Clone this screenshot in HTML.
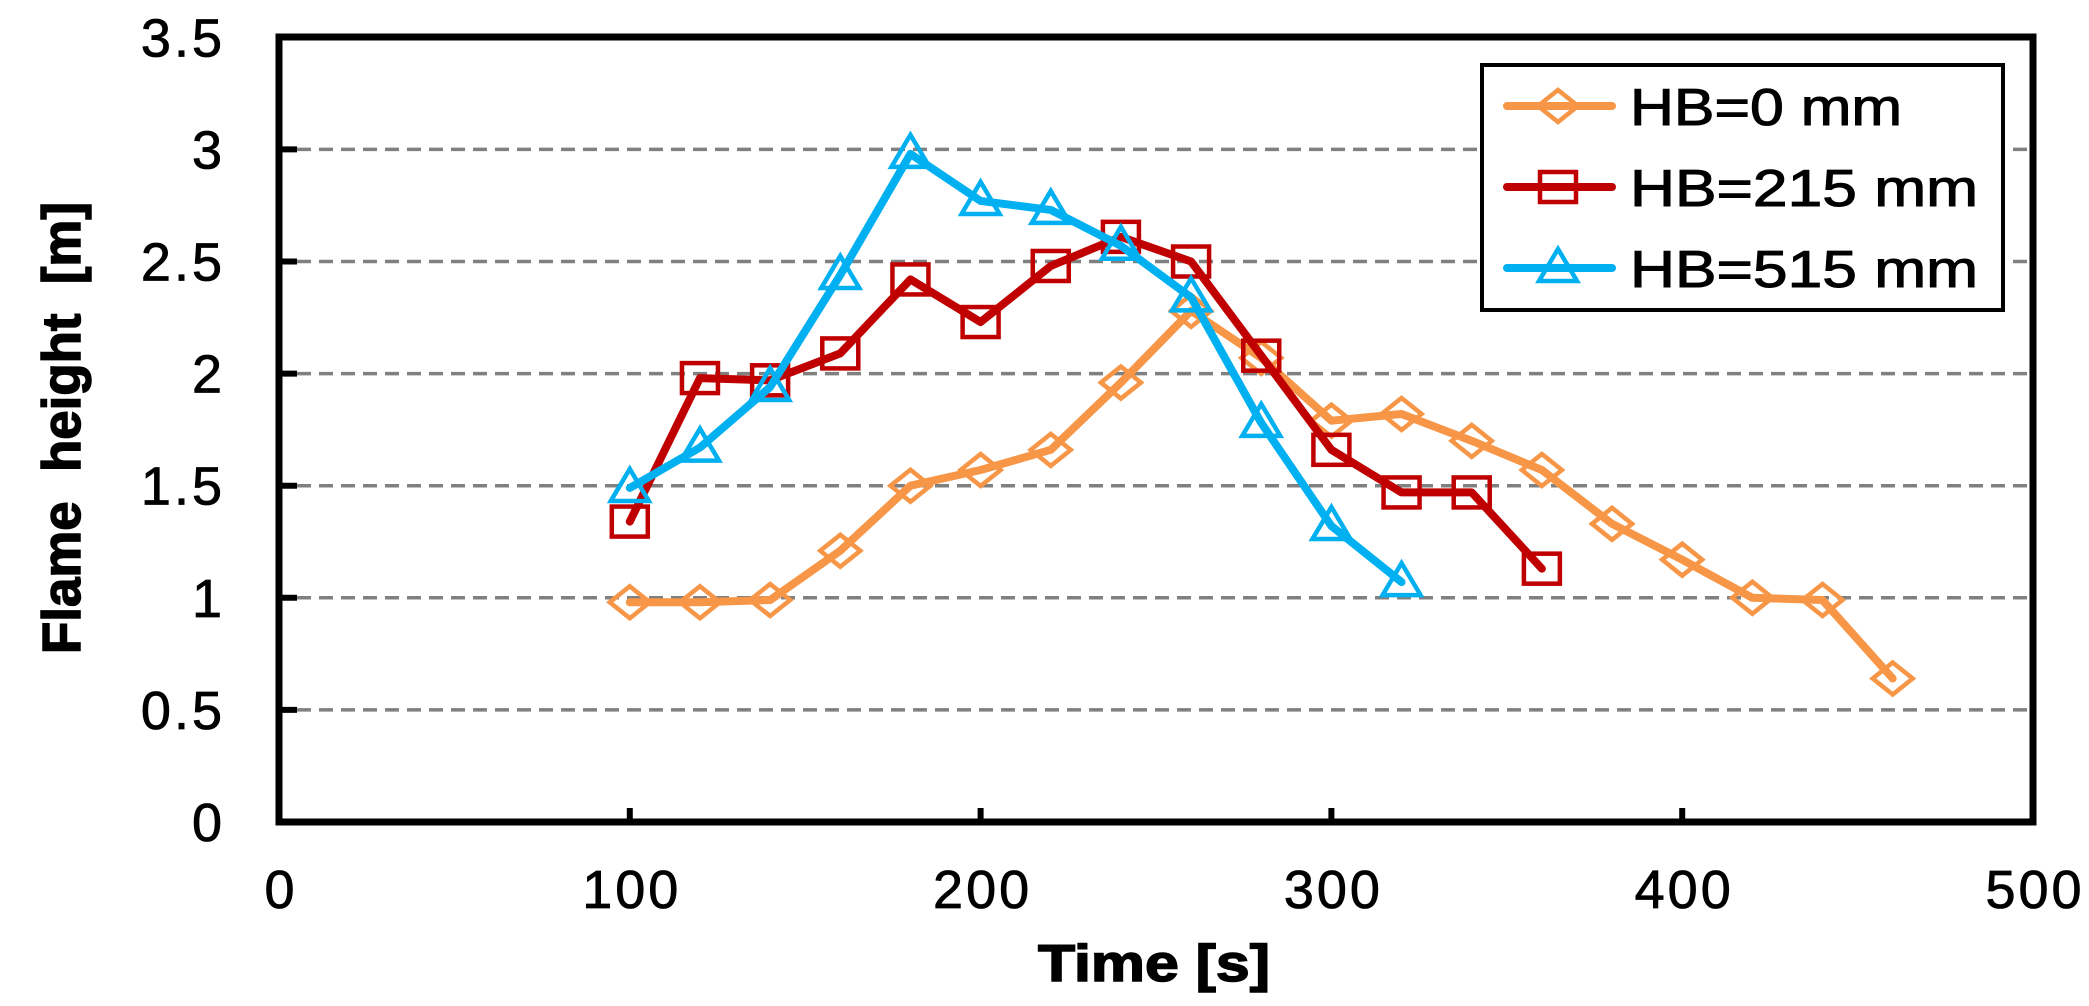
<!DOCTYPE html>
<html><head><meta charset="utf-8"><style>
html,body{margin:0;padding:0;background:#fff;}
svg{display:block;}
text{font-family:"Liberation Sans",Arial,sans-serif;fill:#000;}
</style></head><body>
<svg id="s" width="2089" height="1006" viewBox="0 0 2089 1006" xmlns="http://www.w3.org/2000/svg">
<g id="grid" stroke="#808080" stroke-width="3.5" stroke-dasharray="14,8"></g>
<g id="ticks" stroke="#000" stroke-width="6"></g>
<g id="series"></g>
<rect x="279" y="37" width="1754" height="785" fill="none" stroke="#000" stroke-width="7"/>
<g id="labels" font-size="54" letter-spacing="3" stroke="#000" stroke-width="0.8"></g>
<text x="1154" y="981" font-size="52" font-weight="bold" text-anchor="middle" textLength="232" lengthAdjust="spacingAndGlyphs" stroke="#000" stroke-width="1.5">Time [s]</text>
<text transform="translate(80,428) rotate(-90)" font-size="54" font-weight="bold" text-anchor="middle" textLength="452" lengthAdjust="spacingAndGlyphs" stroke="#000" stroke-width="1.5">Flame&#160; height&#160; [m]</text>
<rect x="1482" y="65" width="521" height="245" fill="#fff" stroke="#000" stroke-width="4"/>
<g id="legend"></g>
</svg>
<script>
var NS="http://www.w3.org/2000/svg";
function el(p,t,a,txt){var e=document.createElementNS(NS,t);for(var k in a)e.setAttribute(k,a[k]);if(txt!=null)e.textContent=txt;document.getElementById(p).appendChild(e);return e;}
function X(v){return 279+v*3.508;}
function Y(v){return 822-v*224.2;}
for(var i=1;i<=6;i++){var y=Y(i*0.5);el("grid","line",{x1:297,x2:2030,y1:y,y2:y});el("ticks","line",{x1:279,x2:297,y1:y,y2:y});}
for(var i=1;i<=4;i++){var x=X(i*100);el("ticks","line",{x1:x,x2:x,y1:822,y2:808});}
var yl=["0","0.5","1","1.5","2","2.5","3","3.5"];
for(var i=0;i<8;i++)el("labels","text",{x:225,y:Y(i*0.5)+19,"text-anchor":"end"},yl[i]);
for(var i=0;i<=5;i++)el("labels","text",{x:X(i*100)+2,y:908,"text-anchor":"middle"},String(i*100));
var S=[
{c:"#F79646",m:"d",d:[[100,0.98],[120,0.98],[140,0.99],[160,1.21],[180,1.5],[200,1.57],[220,1.66],[240,1.96],[260,2.28],[280,2.07],[300,1.79],[320,1.82],[340,1.7],[360,1.57],[380,1.33],[400,1.17],[420,1.0],[440,0.99],[460,0.64]]},
{c:"#C00000",m:"s",d:[[100,1.34],[120,1.98],[140,1.97],[160,2.09],[180,2.42],[200,2.23],[220,2.48],[240,2.61],[260,2.5],[280,2.08],[300,1.66],[320,1.47],[340,1.47],[360,1.13]]},
{c:"#00B0F0",m:"t",d:[[100,1.49],[120,1.67],[140,1.94],[160,2.44],[180,2.98],[200,2.77],[220,2.73],[240,2.57],[260,2.34],[280,1.78],[300,1.32],[320,1.07]]}];
function marker(g,m,x,y,c){
 var a={fill:"none",stroke:c,"stroke-width":4.5};
 if(m=="d"){a.points=[x-20,y,x,y-16,x+20,y,x,y+16].join(" ");el(g,"polygon",a);}
 else if(m=="s"){a.x=x-18;a.y=y-15;a.width=36;a.height=30;el(g,"rect",a);}
 else {a.points=[x-19,y+13,x,y-19,x+19,y+13].join(" ");el(g,"polygon",a);}
}
S.forEach(function(s){
 var pts=s.d.map(function(p){return X(p[0])+","+Y(p[1]);}).join(" ");
 s.d.forEach(function(p){marker("series",s.m,X(p[0]),Y(p[1]),s.c);});
 el("series","polyline",{points:pts,fill:"none",stroke:s.c,"stroke-width":8,"stroke-linejoin":"round","stroke-linecap":"round"});
});
var L=[["HB=0 mm",106,272],["HB=215 mm",187,348],["HB=515 mm",268,348]];
L.forEach(function(l,i){
 var y=l[1],c=S[i].c;
 el("legend","line",{x1:1507,x2:1612,y1:y,y2:y,stroke:c,"stroke-width":8,"stroke-linecap":"round"});
 marker("legend",S[i].m,1558,y,c);
 el("legend","text",{x:1630,y:y+19,"font-size":52,textLength:l[2],lengthAdjust:"spacingAndGlyphs",stroke:"#000","stroke-width":1},l[0]);
});
</script>
</body></html>
